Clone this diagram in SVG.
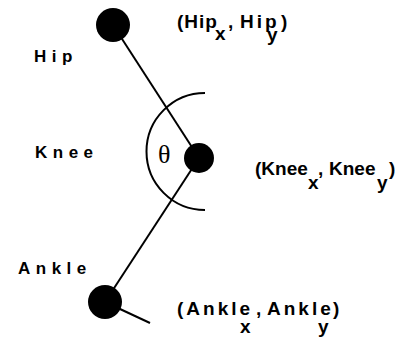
<svg xmlns="http://www.w3.org/2000/svg" width="402" height="337" viewBox="0 0 402 337">
  <style>
    .joint { fill: #000; }
    .seg { stroke: #000; stroke-width: 2; fill: none; stroke-linecap: butt; }
    .name { font-family: "Liberation Sans", Arial, sans-serif; font-weight: bold; font-size: 17px; letter-spacing: 5.5px; fill: #000; }
    .coord { font-family: "Liberation Sans", Arial, sans-serif; font-weight: bold; font-size: 19px; fill: #000; }
    .greek { font-family: "Liberation Serif", "Times New Roman", serif; font-size: 26px; fill: #000; }
  </style>
  <rect width="402" height="337" fill="#fff"/>

  <!-- limb segments -->
  <g id="connectors">
    <line class="seg" x1="113" y1="25" x2="199" y2="158"/>
    <line class="seg" x1="199" y1="158" x2="105" y2="302"/>
    <line class="seg" x1="105" y1="302" x2="150" y2="323"/>
  </g>

  <!-- knee angle -->
  <g id="angle">
    <path class="seg" d="M205,93 A58.5,58.5 0 1 0 205,210" stroke-width="2.5"/>
    <text class="greek" x="158" y="163">θ</text>
  </g>

  <g id="hip">
    <circle class="joint" cx="113" cy="25" r="17"/>
    <text class="name" x="34" y="62">Hip</text>
    <g class="coord">
      <text x="177" y="28" letter-spacing="1">(Hip</text>
      <text x="215" y="40">x</text>
      <text x="228" y="28">,</text>
      <text x="240" y="28" letter-spacing="3">Hip</text>
      <text x="267" y="41">y</text>
      <text x="281" y="28">)</text>
    </g>
  </g>

  <g id="knee">
    <circle class="joint" cx="199" cy="158" r="15"/>
    <text class="name" x="35" y="158">Knee</text>
    <g class="coord">
      <text x="255" y="175">(Knee</text>
      <text x="308" y="189">x</text>
      <text x="318" y="175">,</text>
      <text x="329" y="175">Knee</text>
      <text x="377" y="189">y</text>
      <text x="389" y="175">)</text>
    </g>
  </g>

  <g id="ankle">
    <circle class="joint" cx="105" cy="302" r="17"/>
    <text class="name" x="18" y="274">Ankle</text>
    <g class="coord" letter-spacing="3">
      <text x="177" y="315">(Ankle</text>
      <text x="240" y="333">x</text>
      <text x="256" y="315">,</text>
      <text x="267" y="315">Ankle</text>
      <text x="318" y="333">y</text>
      <text x="333" y="315">)</text>
    </g>
  </g>
</svg>
